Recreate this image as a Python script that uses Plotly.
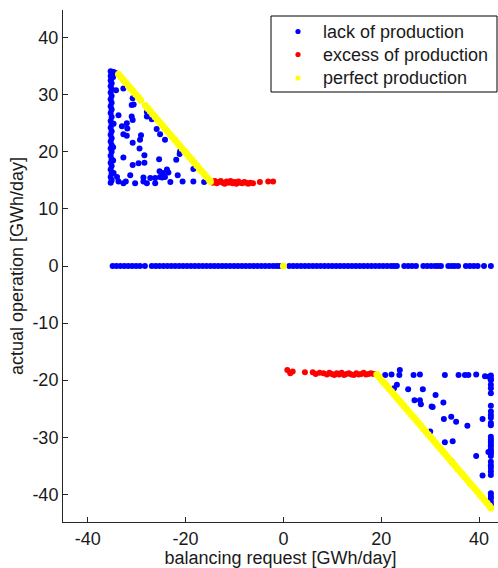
import plotly.graph_objects as go

# ---------------- data ----------------
# lack of production, upper-left cluster: left column
lack_col_up_x = [-35.3, -35.1, -35.3, -35.1, -35.3, -35.1, -35.3, -35.1, -35.3, -35.1,
                 -35.3, -35.1, -35.3, -35.1, -35.3, -35.1, -35.3, -35.1, -35.3, -35.1,
                 -35.3, -35.1, -35.3, -35.1, -35.3, -35.1, -35.3, -35.1, -35.3, -35.1,
                 -35.3, -35.1, -35.3, -35.1, -35.3,
                 -34.7, -34.3, -34.8, -34.2, -34.8, -34.7, -34.8, -34.7]
lack_col_up_y = [34.1, 33.7, 33.3, 32.9, 32.5, 32.0, 31.5, 31.0, 30.4, 29.8,
                 29.2, 28.6, 28.0, 27.4, 26.8, 26.1, 25.4, 24.8, 24.2, 23.6,
                 23.0, 22.4, 21.8, 21.2, 20.6, 20.0, 19.3, 18.7, 18.1, 17.5,
                 16.9, 16.2, 15.6, 15.0, 14.6,
                 34.0, 33.8, 33.1, 30.8, 20.8, 24.9, 18.5, 16.3]
# lack of production, upper-left cluster: scattered points
lack_up_x = [-32.7, -30.8, -30.6, -31.0, -33.7, -31.0, -30.8, -27.9, -27.9, -26.9,
             -33.0, -32.0, -31.9, -25.9, -32.7, -32.0, -29.1, -25.2, -24.2, -30.8,
             -29.3, -29.4, -21.1, -21.2, -28.4, -32.7, -25.4, -21.9, -30.8, -29.6,
             -28.4, -25.3, -23.8, -23.5, -18.4, -24.2, -25.2, -21.6, -31.3, -34.0,
             -28.6, -27.2, -33.7, -32.7, -32.2, -30.3, -28.6, -27.9, -26.2, -24.8,
             -23.1, -20.6, -18.4, -16.2, -26.2, -24.6]
lack_up_y = [31.1, 29.4, 28.3, 28.2, 26.4, 26.2, 25.6, 27.0, 26.2, 25.7,
             24.5, 25.0, 24.1, 24.0, 23.1, 22.8, 22.9, 23.1, 22.1, 21.6,
             22.1, 20.6, 20.1, 19.6, 19.4, 19.0, 18.7, 18.6, 17.7, 18.0,
             18.1, 16.6, 16.9, 16.4, 17.0, 15.6, 15.6, 15.9, 15.9, 15.6,
             15.5, 15.4, 14.8, 14.5, 14.8, 14.5, 14.8, 14.5, 14.5, 15.5,
             14.7, 14.8, 14.8, 14.7, 15.4, 16.3]
# lack of production along the zero line
lack_zero_x = [-34.9, -34.1, -33.3, -32.5, -31.7, -30.9, -30.1, -29.3, -28.3,
               -26.9, -26.1, -25.3, -24.5, -23.7, -22.9, -22.1, -21.3, -20.5, -19.7,
               -18.9, -18.1, -17.3, -16.5, -15.7, -14.9, -14.1, -13.3, -12.5, -11.7,
               -10.9, -10.1, -9.3, -8.5, -7.7, -6.9, -6.1, -5.3, -4.5, -3.7,
               -2.9, -2.1, -1.4, -0.8,
               1.2, 2.0, 2.8, 3.6, 4.4, 5.2, 6.0, 6.8, 7.6, 8.4,
               9.2, 10.0, 10.8, 11.6, 12.4, 13.2, 14.0, 14.8, 15.6, 16.4,
               17.2, 18.0, 18.8, 19.6, 20.4, 21.2, 22.0, 22.6, 23.2,
               24.7, 25.5, 26.3, 27.1,
               28.6, 29.4, 30.2, 31.0, 31.6, 32.2,
               33.7, 34.4, 35.0, 35.7,
               37.3, 38.1, 38.9, 39.7,
               41.0, 42.4]
lack_zero_y = [0.0] * len(lack_zero_x)
# lack of production, lower-right cluster: scattered points
lack_low_x = [20.8, 22.1, 23.7, 23.8, 26.6, 27.9, 33.0, 35.8, 37.1, 37.8, 39.4, 41.2, 42.0,
              23.2, 22.6, 25.5, 28.5, 31.1, 26.8, 27.9, 28.1, 30.3, 30.5, 32.7,
              32.8, 34.3, 35.3, 37.6, 40.7, 30.0, 33.0, 34.6, 39.4, 40.7, 41.9, 34.4]
lack_low_y = [-19.1, -19.0, -19.1, -18.2, -19.1, -19.0, -19.1, -19.1, -19.1, -19.1, -19.0, -19.3, -19.4,
              -20.8, -21.4, -21.6, -21.6, -22.6, -23.5, -23.5, -24.2, -24.6, -24.7, -23.9,
              -26.8, -26.4, -27.3, -28.0, -26.8, -29.0, -30.9, -30.7, -33.3, -36.7, -32.6, -34.3]
# lack of production, lower-right cluster: right column
lack_col_low_x = [42.4, 42.4, 42.4, 42.4, 42.4, 42.4, 42.4, 42.4, 42.4, 42.4,
                  42.4, 42.4, 42.4, 42.4, 42.4, 42.4, 42.4, 42.4, 42.4, 42.4,
                  42.4, 42.4, 42.4, 42.4, 42.4, 42.4, 42.4, 42.4, 42.4, 42.4,
                  42.4, 42.4]
lack_col_low_y = [-19.2, -19.7, -20.0, -20.8, -21.4, -22.3, -24.5, -25.5, -26.1, -26.6,
                  -27.5, -27.9, -29.9, -30.4, -30.8, -31.2, -31.6, -32.1, -32.5, -32.8,
                  -33.3, -34.3, -34.9, -35.4, -36.0, -36.6, -39.8, -40.3, -40.7, -41.3,
                  -41.8, -42.2]

# excess of production
excess_up_x = [-14.8, -14.4, -14.0, -13.6, -13.2, -12.8, -12.4, -12.0, -11.6, -11.2,
               -10.8, -10.4, -10.0, -9.6, -9.2, -8.8, -8.4, -8.0, -7.6, -7.2,
               -6.8, -6.2, -4.8, -3.1, -2.1]
excess_up_y = [14.8, 14.6, 14.9, 14.5, 14.7, 14.9, 14.6, 14.4, 14.8, 14.6,
               14.9, 14.5, 14.7, 14.4, 14.8, 14.6, 14.5, 14.7, 14.6, 14.4,
               14.6, 14.5, 14.7, 14.8, 14.8]
excess_low_x = [0.8, 1.4, 1.9, 4.4, 6.0, 6.6, 7.4, 8.2, 8.9, 9.4,
                9.9, 10.4, 10.9, 11.4, 11.9, 12.4, 12.9, 13.4, 13.9, 14.4,
                14.9, 15.4, 15.9, 16.4, 16.9, 17.4, 17.9, 18.4, 18.8]
excess_low_y = [-18.2, -18.8, -18.5, -18.6, -18.6, -18.9, -18.7, -18.8, -19.0, -18.7,
                -18.9, -19.1, -18.8, -19.0, -18.7, -19.1, -18.9, -18.8, -19.0, -19.1,
                -18.8, -19.0, -18.9, -18.7, -19.0, -18.9, -18.8, -18.9, -18.9]

# perfect production
perfect_up_x = [-33.7, -33.2, -32.7, -32.2, -31.7, -31.2, -30.7, -30.2, -29.7, -29.2,
                -28.2, -27.7, -27.2, -26.7, -26.2, -25.7, -25.2, -24.7, -24.2, -23.7,
                -23.2, -22.7, -22.2, -21.7, -21.2, -20.7, -20.2, -19.7, -19.2, -18.7,
                -18.2, -17.7, -17.2, -16.7, -16.2, -15.7, -15.2, -14.9]
perfect_up_y = [33.6, 33.1, 32.6, 32.1, 31.6, 31.1, 30.6, 30.1, 29.6, 29.1,
                28.1, 27.6, 27.1, 26.6, 26.1, 25.6, 25.1, 24.6, 24.1, 23.6,
                23.1, 22.6, 22.1, 21.6, 21.1, 20.6, 20.1, 19.6, 19.1, 18.6,
                18.1, 17.6, 17.1, 16.6, 16.1, 15.6, 15.1, 14.8]
perfect_zero_x = [0.0]
perfect_zero_y = [0.0]
perfect_low_x = [19.1, 19.6, 20.1, 20.6, 21.1, 21.6, 22.1, 22.6, 23.1, 23.6,
                 24.1, 24.6, 25.1, 25.6, 26.1, 26.6, 27.1, 27.6, 28.1, 28.6,
                 29.1, 29.6, 30.1, 30.6, 31.1, 31.6, 32.1, 32.6, 33.1, 33.6,
                 34.1, 34.6, 35.1, 35.6, 36.1, 36.6, 37.1, 37.6, 38.1, 38.6,
                 39.1, 39.6, 40.1, 40.6, 41.1, 41.6, 42.1, 42.4]
perfect_low_y = [-19.0, -19.5, -20.0, -20.5, -21.0, -21.5, -22.0, -22.5, -23.0, -23.5,
                 -24.0, -24.5, -25.0, -25.5, -26.0, -26.5, -27.0, -27.5, -28.0, -28.5,
                 -29.0, -29.5, -30.0, -30.5, -31.0, -31.5, -32.0, -32.5, -33.0, -33.5,
                 -34.0, -34.5, -35.0, -35.5, -36.0, -36.5, -37.0, -37.5, -38.0, -38.5,
                 -39.0, -39.5, -40.0, -40.5, -41.0, -41.5, -42.0, -42.4]

legend_names = ["lack of production", "excess of production", "perfect production"]
x_ticks = [-40, -20, 0, 20, 40]
x_tick_labels = ["-40", "-20", "0", "20", "40"]
y_ticks = [-40, -30, -20, -10, 0, 10, 20, 30, 40]
y_tick_labels = ["-40", "-30", "-20", "-10", "0", "10", "20", "30", "40"]
x_title = "balancing request [GWh/day]"
y_title = "actual operation [GWh/day]"

BLUE, RED, YELLOW = "#0000ff", "#ff0000", "#ffff00"
COLORS = [BLUE, RED, YELLOW]
FONT = "Liberation Sans, Arial, Helvetica, sans-serif"
TXT = "#1a1a1a"

# ---------------- layout geometry (pixels) ----------------
W, H = 498, 568
ML, MR, MT, MB = 63, 0, 10, 46
PW, PH = W - ML - MR, H - MT - MB


def px_x(p):
    return (p - ML) / PW


def px_y(p):
    return (H - MB - p) / PH


lack_x = lack_col_up_x + lack_up_x + lack_zero_x + lack_low_x + lack_col_low_x
lack_y = lack_col_up_y + lack_up_y + lack_zero_y + lack_low_y + lack_col_low_y
excess_x = excess_up_x + excess_low_x
excess_y = excess_up_y + excess_low_y
perfect_x = perfect_up_x + perfect_zero_x + perfect_low_x
perfect_y = perfect_up_y + perfect_zero_y + perfect_low_y

fig = go.Figure()
fig.add_trace(go.Scatter(x=lack_x, y=lack_y, mode="markers", name=legend_names[0],
                         showlegend=False, marker=dict(color=BLUE, size=6, line_width=0)))
fig.add_trace(go.Scatter(x=excess_x, y=excess_y, mode="markers", name=legend_names[1],
                         showlegend=False, marker=dict(color=RED, size=6, line_width=0)))
fig.add_trace(go.Scatter(x=perfect_x, y=perfect_y, mode="markers", name=legend_names[2],
                         showlegend=False, marker=dict(color=YELLOW, size=7, line_width=0)))

axis_common = dict(showline=True, linecolor="#262626", linewidth=1, mirror=False,
                   ticks="inside", ticklen=5, tickcolor="#262626", showgrid=False,
                   zeroline=False, tickfont=dict(size=18, color=TXT, family=FONT))
fig.update_xaxes(range=[-45.04, 43.86], tickvals=x_ticks, ticktext=x_tick_labels,
                 title=dict(text=x_title, font=dict(size=18, color=TXT, family=FONT),
                            standoff=2),
                 **axis_common)
fig.update_yaxes(range=[-44.85, 44.85], tickvals=y_ticks, ticktext=y_tick_labels,
                 title=dict(text=y_title, font=dict(size=18, color=TXT, family=FONT),
                            standoff=4),
                 **axis_common)

# ---------------- MATLAB-style legend box ----------------
shapes = [dict(type="rect", xref="paper", yref="paper",
               x0=px_x(271), x1=px_x(497), y0=px_y(92), y1=px_y(16),
               line=dict(color="black", width=1), fillcolor="white", layer="above")]
annotations = []
row_py = [31.5, 54.5, 78]
r = 2.6
for name, col, py in zip(legend_names, COLORS, row_py):
    shapes.append(dict(type="circle", xref="paper", yref="paper",
                       x0=px_x(298 - r), x1=px_x(298 + r),
                       y0=px_y(py + r), y1=px_y(py - r),
                       line=dict(width=0), fillcolor=col, layer="above"))
    annotations.append(dict(text=name, xref="paper", yref="paper",
                            x=px_x(321), y=px_y(py), xanchor="left", yanchor="middle",
                            showarrow=False,
                            font=dict(size=18, family=FONT, color=TXT)))

fig.update_layout(
    width=W, height=H,
    margin=dict(l=ML, r=MR, t=MT, b=MB),
    paper_bgcolor="white", plot_bgcolor="white",
    font=dict(family=FONT, size=18, color=TXT),
    showlegend=False,
    shapes=shapes,
    annotations=annotations,
)

fig.write_html("out.html", config={"displayModeBar": False},
               post_script="document.body.style.margin='0';document.body.style.overflow='hidden';")
